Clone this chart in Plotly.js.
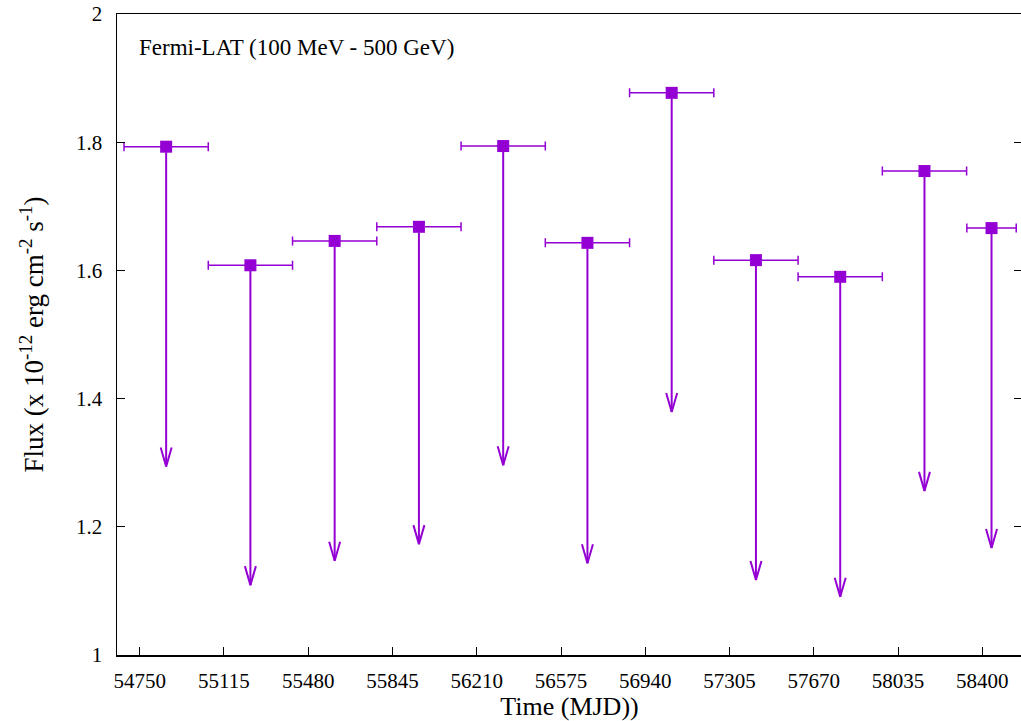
<!DOCTYPE html>
<html>
<head>
<meta charset="utf-8">
<script src="https://cdn.plot.ly/plotly-3.0.1.min.js"></script>
<style>
html, body { margin: 0; padding: 0; overflow: hidden; background: #fff; }
#chart { width: 1022px; height: 721px; }
</style>
</head>
<body>
<div id="chart"></div>
<script>
// Data
const binCenterMJD = [54864.5, 55229.5, 55594.5, 55959.5, 56324.5, 56689.5, 57054.5, 57419.5, 57784.5, 58149.5, 58440];
const binHalfWidth = [182.5, 182.5, 182.5, 182.5, 182.5, 182.5, 182.5, 182.5, 182.5, 182.5, 107];
const fluxUL = [1.793, 1.608, 1.646, 1.668, 1.794, 1.643, 1.877, 1.616, 1.590, 1.755, 1.666];
const arrowTip = [1.294, 1.109, 1.147, 1.173, 1.296, 1.143, 1.379, 1.117, 1.091, 1.256, 1.167];
const xTickVals = [54750, 55115, 55480, 55845, 56210, 56575, 56940, 57305, 57670, 58035, 58400];
const yTickVals = [1, 1.2, 1.4, 1.6, 1.8, 2];

const COLOR = '#9400D3';
const FONT = 'Liberation Serif, Times New Roman, serif';

const W = 1022, H = 721;
const margin = {l: 117, r: 0, t: 14, b: 66};
const xRange = [54651.6, 58572];
const yRange = [1, 2];
const pxPerX = (W - margin.l - margin.r) / (xRange[1] - xRange[0]);
const pxPerY = (H - margin.t - margin.b) / (yRange[1] - yRange[0]);

// arrowhead size in pixels (style), converted to data units
const headHalfW = 5.5 / pxPerX;
const headLen = 19 / pxPerY;

const headX = [], headY = [];
for (let i = 0; i < binCenterMJD.length; i++) {
  headX.push(binCenterMJD[i] - headHalfW, binCenterMJD[i], binCenterMJD[i] + headHalfW, null);
  headY.push(arrowTip[i] + headLen, arrowTip[i], arrowTip[i] + headLen, null);
}
const stemMinus = fluxUL.map((v, i) => v - arrowTip[i]);

const traces = [
  {
    x: headX, y: headY, mode: 'lines', type: 'scatter',
    line: {color: COLOR, width: 2}, hoverinfo: 'skip', showlegend: false
  },
  {
    x: binCenterMJD, y: fluxUL, mode: 'markers', type: 'scatter',
    marker: {symbol: 'square', size: 12, color: COLOR, line: {width: 0}},
    error_x: {type: 'data', symmetric: true, array: binHalfWidth, color: COLOR, thickness: 1.5, width: 4.5},
    error_y: {type: 'data', symmetric: false, array: fluxUL.map(() => 0), arrayminus: stemMinus, color: COLOR, thickness: 2, width: 0},
    showlegend: false
  }
];

const layout = {
  width: W, height: H, margin: margin,
  paper_bgcolor: '#fff', plot_bgcolor: '#fff',
  font: {family: FONT, color: '#000', size: 21},
  showlegend: false,
  xaxis: {
    range: xRange, tickmode: 'array', tickvals: xTickVals,
    ticktext: xTickVals.map(String),
    ticks: 'inside', ticklen: 8, tickwidth: 1, tickcolor: '#000',
    showline: true, linecolor: '#000', linewidth: 1.5, mirror: true,
    showgrid: false, zeroline: false,
    tickfont: {family: FONT, size: 21, color: '#000'},
    ticklabelstandoff: 6,
    title: {text: 'Time (MJD))', font: {family: FONT, size: 26, color: '#000'}, standoff: 4}
  },
  yaxis: {
    range: yRange, tickmode: 'array', tickvals: yTickVals,
    ticktext: yTickVals.map(v => String(v)),
    ticks: 'inside', ticklen: 8, tickwidth: 1, tickcolor: '#000',
    showline: true, linecolor: '#000', linewidth: 1.5, mirror: 'ticks',
    showgrid: false, zeroline: false,
    tickfont: {family: FONT, size: 21, color: '#000'},
    ticklabelstandoff: 9,
    title: {text: 'Flux (x 10<sup>-12</sup> erg cm<sup>-2</sup> s<sup>-1</sup>)', font: {family: FONT, size: 27, color: '#000'}, standoff: 24}
  },
  annotations: [{
    text: 'Fermi-LAT (100 MeV - 500 GeV)', xref: 'paper', yref: 'paper',
    x: 0.022, y: 0.9485, xanchor: 'left', yanchor: 'middle', showarrow: false,
    font: {family: FONT, size: 23, color: '#000'}
  }]
};

Plotly.newPlot('chart', traces, layout, {displayModeBar: false, staticPlot: true});
</script>
</body>
</html>
